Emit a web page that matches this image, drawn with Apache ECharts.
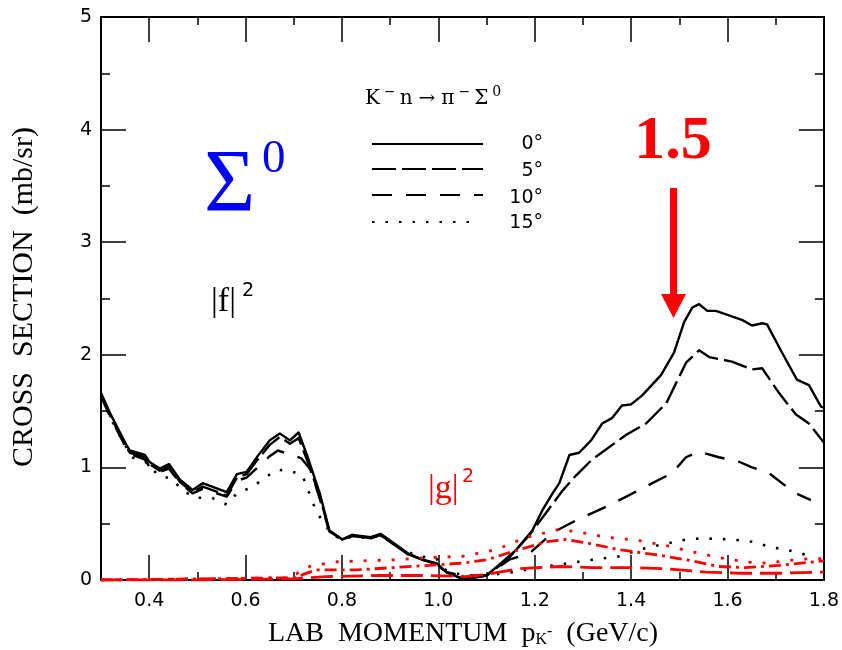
<!DOCTYPE html>
<html>
<head>
<meta charset="utf-8">
<script src="https://cdn.jsdelivr.net/npm/echarts@6/dist/echarts.min.js"></script>
<style>
  html, body { margin: 0; padding: 0; background: #fff; }
  #chart { width: 842px; height: 650px; }
</style>
</head>
<body>
<div id="chart"></div>
<script>
// K- n -> pi- Sigma0 differential cross section vs lab momentum

// |f|^2 at 0 degrees
const p0 = [0.300,0.319,0.350,0.360,0.391,0.400,0.422,0.441,0.464,0.490,0.511,0.561,0.582,0.602,0.625,0.650,0.671,0.692,0.710,0.729,0.754,0.774,0.801,0.822,0.860,0.880,0.913,0.936,0.967,0.996,1.017,1.044,1.071,1.100,1.133,1.162,1.195,1.216,1.237,1.251,1.272,1.292,1.317,1.340,1.361,1.381,1.400,1.423,1.462,1.489,1.510,1.527,1.541,1.558,1.576,1.603,1.630,1.651,1.672,1.682,1.713,1.744,1.769,1.794,1.800];
const f0 = [1.66,1.48,1.22,1.15,1.11,1.05,0.99,1.03,0.89,0.80,0.86,0.78,0.94,0.96,1.10,1.24,1.30,1.24,1.31,1.09,0.77,0.44,0.36,0.40,0.38,0.41,0.31,0.24,0.18,0.15,0.07,0.02,0.02,0.04,0.16,0.27,0.44,0.62,0.77,0.86,1.11,1.13,1.24,1.39,1.44,1.55,1.56,1.64,1.82,2.02,2.29,2.42,2.45,2.39,2.39,2.35,2.31,2.26,2.28,2.27,2.02,1.78,1.73,1.54,1.53];

// |f|^2 at 5 degrees
const p5 = [0.300,0.319,0.350,0.360,0.391,0.400,0.422,0.441,0.464,0.490,0.511,0.561,0.582,0.602,0.625,0.650,0.671,0.692,0.710,0.729,0.754,0.774,0.801,0.822,0.860,0.880,0.913,0.936,0.967,0.996,1.017,1.044,1.071,1.100,1.141,1.189,1.224,1.257,1.286,1.319,1.361,1.390,1.431,1.473,1.514,1.541,1.562,1.609,1.651,1.672,1.707,1.742,1.769,1.800];
const f5 = [1.64,1.46,1.20,1.13,1.09,1.03,0.97,1.01,0.87,0.78,0.83,0.75,0.91,0.94,1.07,1.20,1.27,1.21,1.26,1.05,0.74,0.43,0.36,0.40,0.37,0.40,0.30,0.23,0.18,0.14,0.07,0.02,0.02,0.04,0.17,0.40,0.60,0.79,0.93,1.07,1.20,1.29,1.39,1.57,1.93,2.04,1.98,1.94,1.87,1.88,1.66,1.47,1.39,1.22];

// |f|^2 at 10 degrees
const p10 = [0.300,0.319,0.350,0.360,0.391,0.400,0.422,0.441,0.464,0.490,0.511,0.561,0.582,0.602,0.630,0.650,0.667,0.696,0.716,0.735,0.754,0.774,0.801,0.822,0.860,0.880,0.913,0.936,0.967,0.996,1.017,1.050,1.100,1.147,1.190,1.237,1.286,1.348,1.390,1.444,1.485,1.514,1.541,1.582,1.624,1.651,1.686,1.713,1.742,1.773];
const f10 = [1.63,1.45,1.19,1.12,1.07,1.01,0.96,0.99,0.86,0.77,0.81,0.74,0.88,0.91,1.02,1.10,1.15,1.11,1.08,0.98,0.72,0.43,0.36,0.39,0.37,0.40,0.30,0.23,0.18,0.14,0.07,0.04,0.04,0.18,0.24,0.42,0.53,0.65,0.74,0.86,0.95,1.09,1.14,1.09,1.05,1.00,0.95,0.86,0.77,0.71];

// |f|^2 at 15 degrees
const p15 = [0.300,0.330,0.364,0.397,0.418,0.447,0.468,0.495,0.530,0.561,0.584,0.613,0.640,0.667,0.698,0.718,0.743,0.758,0.780,0.801,0.822,0.860,0.880,0.913,0.936,0.960,0.996,1.017,1.065,1.100,1.154,1.224,1.272,1.319,1.375,1.417,1.458,1.514,1.548,1.609,1.651,1.692,1.721,1.775];
const f15 = [1.62,1.35,1.09,1.04,0.93,0.90,0.80,0.73,0.73,0.67,0.78,0.82,0.91,0.98,0.96,0.93,0.65,0.53,0.40,0.36,0.39,0.37,0.40,0.30,0.25,0.21,0.19,0.08,0.03,0.04,0.07,0.12,0.15,0.18,0.21,0.27,0.31,0.36,0.37,0.36,0.34,0.29,0.27,0.21];

// |g|^2 (spin-flip) at 15, 10 and 5 degrees
const pg15 = [0.300,0.500,0.690,0.733,0.781,0.843,0.913,0.982,1.050,1.120,1.183,1.251,1.299,1.348,1.417,1.479,1.527,1.582,1.638,1.680,1.721,1.769,1.800];
const g15 = [0.00,0.01,0.02,0.12,0.16,0.17,0.18,0.20,0.21,0.27,0.38,0.45,0.42,0.38,0.35,0.30,0.25,0.20,0.16,0.15,0.17,0.19,0.19];
const pg10 = [0.300,0.500,0.700,0.747,0.830,0.905,0.982,1.050,1.100,1.168,1.224,1.265,1.307,1.375,1.458,1.514,1.582,1.638,1.707,1.800];
const g10 = [0.00,0.01,0.02,0.09,0.09,0.11,0.13,0.15,0.18,0.27,0.34,0.36,0.33,0.27,0.22,0.18,0.12,0.11,0.13,0.17];
const pg5 = [0.300,0.500,0.700,0.768,0.878,0.982,1.058,1.100,1.168,1.251,1.319,1.402,1.473,1.555,1.624,1.707,1.800];
const g5 = [0.00,0.00,0.01,0.03,0.04,0.04,0.03,0.05,0.10,0.12,0.11,0.11,0.10,0.07,0.06,0.06,0.07];

// legend entries
const legendLabels = ['0°', '5°', '10°', '15°'];

const BLACK = '#000000', RED = '#ff0000', BLUE = '#0000ff';
const DASH5 = [24, 6], DASH10 = [20, 14], DOT15 = [2.5, 11];
const TICK_FONT = '"DejaVu Sans"';
const SERIF = '"Liberation Serif"';

const pairs = (xs, ys) => xs.map((x, i) => [x, ys[i]]);

function curve(name, xs, ys, color, width, dash, z) {
  return {
    name: name, type: 'line', data: pairs(xs, ys),
    symbol: 'none', smooth: false, z: z,
    lineStyle: { color: color, width: width, type: dash || 'solid', cap: 'butt', join: 'round' },
    emphasis: { disabled: true }, silent: true
  };
}

function xAxisCfg(pos) {
  return {
    type: 'value', position: pos, min: 0.3, max: 1.8, splitNumber: 7,
    axisLine: { show: true, onZero: false, lineStyle: { color: BLACK, width: 2 } },
    axisTick: { show: true, inside: true, length: 25, lineStyle: { color: BLACK, width: 1.5 } },
    minorTick: { show: true, splitNumber: 2, length: 8, lineStyle: { color: BLACK, width: 1.5 } },
    splitLine: { show: false }, minorSplitLine: { show: false },
    axisLabel: {
      show: pos === 'bottom', showMinLabel: false, margin: 12,
      formatter: v => v.toFixed(1),
      fontFamily: TICK_FONT, fontSize: 19, color: BLACK
    }
  };
}
function yAxisCfg(pos) {
  return {
    type: 'value', position: pos, min: 0, max: 5, interval: 1,
    axisLine: { show: true, onZero: false, lineStyle: { color: BLACK, width: 2 } },
    axisTick: { show: true, inside: true, length: 25, lineStyle: { color: BLACK, width: 1.5 } },
    minorTick: { show: true, splitNumber: 2, length: 9, lineStyle: { color: BLACK, width: 1.5 } },
    splitLine: { show: false }, minorSplitLine: { show: false },
    axisLabel: {
      show: pos === 'left', margin: 9,
      fontFamily: TICK_FONT, fontSize: 19, color: BLACK
    }
  };
}

// legend samples drawn as short styled strokes
const legendRows = [
  { y: 144, dash: null, x2: 483 },
  { y: 169, dash: DASH5, x2: 483 },
  { y: 195, dash: DASH10, x2: 483 },
  { y: 222, dash: DOT15, x2: 475 }
];
const labelY = [144, 171, 198, 223];

const graphics = [];
legendRows.forEach((r, i) => {
  graphics.push({
    type: 'line', silent: true,
    shape: { x1: 372, y1: r.y, x2: r.x2, y2: r.y },
    style: { stroke: BLACK, lineWidth: 2.2, lineDash: r.dash, lineCap: 'butt' }
  });
  graphics.push({
    type: 'text', silent: true, x: 543, y: labelY[i],
    style: { text: legendLabels[i], font: '19px ' + TICK_FONT, fill: BLACK,
             align: 'right', verticalAlign: 'middle', textAlign: 'right', textVerticalAlign: 'middle' }
  });
});

// reaction label
graphics.push({
  type: 'text', silent: true, x: 362, y: 99,
  style: {
    text: '{b|K}{s|−}{b|n}{b|→}{b|π}{s|−}{b|Σ}{s|0}',
    align: 'left', verticalAlign: 'middle', textAlign: 'left', textVerticalAlign: 'middle',
    rich: {
      b: { font: '20px "DejaVu Serif"', fill: BLACK, padding: [0, 3, 0, 3] },
      s: { font: '14px "DejaVu Serif"', fill: BLACK, padding: [0, 1, 14, 1] }
    }
  }
});

// Sigma0 marker
graphics.push({
  type: 'text', silent: true, x: 204, y: 187,
  style: { text: 'Σ', font: '88px ' + SERIF, fill: BLUE,
           align: 'left', verticalAlign: 'middle', textAlign: 'left', textVerticalAlign: 'middle' }
});
graphics.push({
  type: 'text', silent: true, x: 262, y: 160,
  style: { text: '0', font: '47px ' + SERIF, fill: BLUE,
           align: 'left', verticalAlign: 'middle', textAlign: 'left', textVerticalAlign: 'middle' }
});

// |f|^2 and |g|^2 tags
function absSq(letter, x, y, color) {
  graphics.push({
    type: 'text', silent: true, x: x, y: y,
    style: { text: '|' + letter + '|', font: '34px ' + SERIF, fill: color,
             align: 'left', verticalAlign: 'middle', textAlign: 'left', textVerticalAlign: 'middle' }
  });
}
absSq('f', 211, 302, BLACK);
graphics.push({ type: 'text', silent: true, x: 242, y: 291,
  style: { text: '2', font: '19px ' + TICK_FONT, fill: BLACK, align: 'left', verticalAlign: 'middle', textAlign: 'left', textVerticalAlign: 'middle' } });
absSq('g', 428, 489, RED);
graphics.push({ type: 'text', silent: true, x: 462, y: 477,
  style: { text: '2', font: '19px ' + TICK_FONT, fill: RED, align: 'left', verticalAlign: 'middle', textAlign: 'left', textVerticalAlign: 'middle' } });

// 1.5 GeV/c marker and arrow
graphics.push({
  type: 'text', silent: true, x: 673, y: 142,
  style: { text: '1.5', font: 'bold 62px ' + SERIF, fill: RED,
           align: 'center', verticalAlign: 'middle', textAlign: 'center', textVerticalAlign: 'middle' }
});
graphics.push({ type: 'rect', silent: true, shape: { x: 670, y: 188, width: 7, height: 110 }, style: { fill: RED } });
graphics.push({ type: 'polygon', silent: true, shape: { points: [[661, 294], [686, 294], [673.5, 318]] }, style: { fill: RED } });

// axis titles
graphics.push({
  type: 'text', silent: true, x: 24, y: 297, rotation: Math.PI / 2,
  style: { text: 'CROSS  SECTION  (mb/sr)', font: '30px ' + SERIF, fill: BLACK,
           align: 'center', verticalAlign: 'middle', textAlign: 'center', textVerticalAlign: 'middle' }
});
graphics.push({
  type: 'text', silent: true, x: 463, y: 634,
  style: {
    text: '{t|LAB  MOMENTUM  p}{k|K}{m|-}{t|  (GeV/c)}',
    align: 'center', verticalAlign: 'middle', textAlign: 'center', textVerticalAlign: 'middle',
    rich: {
      t: { font: '28px ' + SERIF, fill: BLACK },
      k: { font: '16px ' + SERIF, fill: BLACK, padding: [12, 0, 0, 0] },
      m: { font: '16px ' + SERIF, fill: BLACK, padding: [0, 0, 4, 0] }
    }
  }
});

const chart = echarts.init(document.getElementById('chart'), null, { renderer: 'canvas' });
chart.setOption({
  animation: false,
  backgroundColor: '#ffffff',
  grid: { left: 101, right: 17, top: 17, bottom: 70, containLabel: false },
  xAxis: [xAxisCfg('bottom'), xAxisCfg('top')],
  yAxis: [yAxisCfg('left'), yAxisCfg('right')],
  series: [
    curve('0°', p0, f0, BLACK, 2.4, null, 3),
    curve('5°', p5, f5, BLACK, 2.4, DASH5, 3),
    curve('10°', p10, f10, BLACK, 2.4, DASH10, 3),
    curve('15°', p15, f15, BLACK, 2.6, DOT15, 3),
    curve('g 15°', pg15, g15, RED, 2.8, [3, 11], 4),
    curve('g 10°', pg10, g10, RED, 2.8, [12, 5, 3, 5], 4),
    curve('g 5°', pg5, g5, RED, 2.8, [22, 8], 4)
  ],
  graphic: graphics
});
</script>
</body>
</html>
